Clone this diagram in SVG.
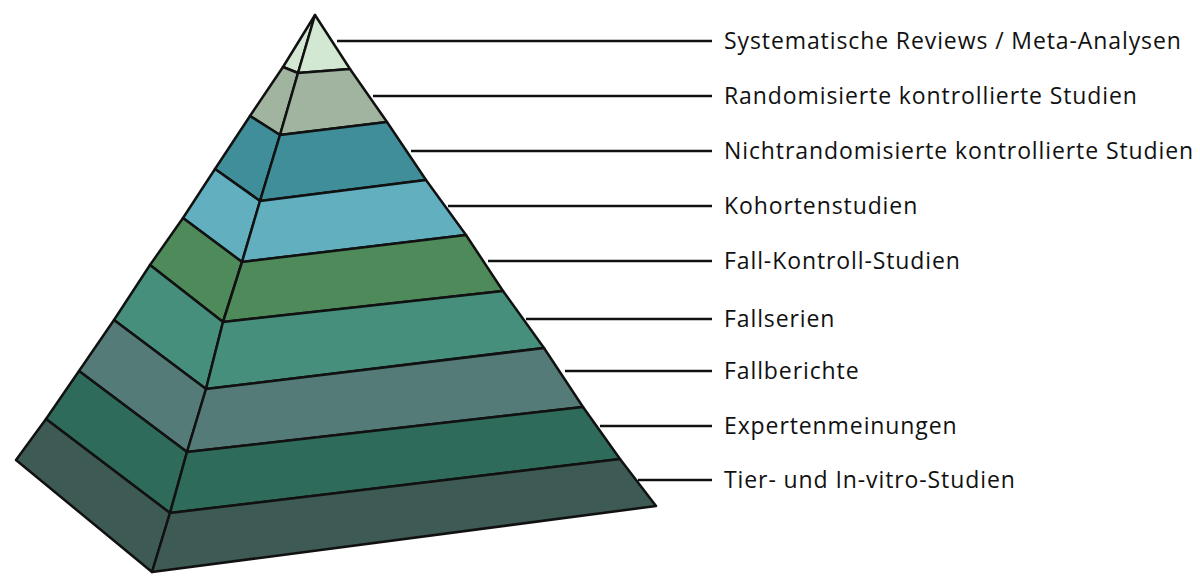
<svg xmlns="http://www.w3.org/2000/svg" width="1200" height="581" viewBox="0 0 1200 581">
<style>
.f{stroke:#111;stroke-width:2.5;stroke-linejoin:round}
.c{stroke:#111;stroke-width:2.5;fill:none}
.t{font-family:"Open Sans","Noto Sans",sans-serif;font-size:23px;letter-spacing:0.9px;fill:#111}
</style>
<rect width="1200" height="581" fill="#fff"/>
<g id="connectors">
<line class="c" x1="337" y1="41" x2="712" y2="41"/>
<line class="c" x1="373" y1="96" x2="712" y2="96"/>
<line class="c" x1="411" y1="151" x2="712" y2="151"/>
<line class="c" x1="448" y1="206" x2="712" y2="206"/>
<line class="c" x1="488" y1="261" x2="712" y2="261"/>
<line class="c" x1="526" y1="319" x2="712" y2="319"/>
<line class="c" x1="565" y1="371" x2="712" y2="371"/>
<line class="c" x1="600" y1="426" x2="712" y2="426"/>
<line class="c" x1="638" y1="480" x2="712" y2="480"/>
</g>
<g id="pyramid">
<g id="l1"><polygon class="f" fill="#d3e8d3" points="315,15 283,67 298,73"/><polygon class="f" fill="#d3e8d3" points="315,15 350,69 298,73"/></g>
<g id="l2"><polygon class="f" fill="#a0b4a0" points="283,67 298,73 280,135 250,116"/><polygon class="f" fill="#a0b4a0" points="298,73 350,69 387,122 280,135"/></g>
<g id="l3"><polygon class="f" fill="#3f8e99" points="250,116 280,135 260,201 215,169"/><polygon class="f" fill="#3f8e99" points="280,135 387,122 426,180 260,201"/></g>
<g id="l4"><polygon class="f" fill="#62b0bf" points="215,169 260,201 242,262 183,218"/><polygon class="f" fill="#62b0bf" points="260,201 426,180 466,235 242,262"/></g>
<g id="l5"><polygon class="f" fill="#4e8a5a" points="183,218 242,262 223,322 150,265"/><polygon class="f" fill="#4e8a5a" points="242,262 466,235 503,291 223,322"/></g>
<g id="l6"><polygon class="f" fill="#468f7c" points="150,265 223,322 206,389 114,320"/><polygon class="f" fill="#468f7c" points="223,322 503,291 544,348 206,389"/></g>
<g id="l7"><polygon class="f" fill="#557b78" points="114,320 206,389 187,452 79,371"/><polygon class="f" fill="#557b78" points="206,389 544,348 583,407 187,452"/></g>
<g id="l8"><polygon class="f" fill="#2f6b5a" points="79,371 187,452 170,513 46,419"/><polygon class="f" fill="#2f6b5a" points="187,452 583,407 620,459 170,513"/></g>
<g id="l9"><polygon class="f" fill="#3e5a55" points="46,419 170,513 152,572 16,460"/><polygon class="f" fill="#3e5a55" points="170,513 620,459 656,506 152,572"/></g>
</g>
<g id="labels">
<text class="t" x="724" y="49">Systematische Reviews / Meta-Analysen</text>
<text class="t" x="724" y="104">Randomisierte kontrollierte Studien</text>
<text class="t" x="724" y="159">Nichtrandomisierte kontrollierte Studien</text>
<text class="t" x="724" y="214">Kohortenstudien</text>
<text class="t" x="724" y="269">Fall-Kontroll-Studien</text>
<text class="t" x="724" y="327">Fallserien</text>
<text class="t" x="724" y="379">Fallberichte</text>
<text class="t" x="724" y="434">Expertenmeinungen</text>
<text class="t" x="724" y="488">Tier- und In-vitro-Studien</text>
</g>
</svg>
